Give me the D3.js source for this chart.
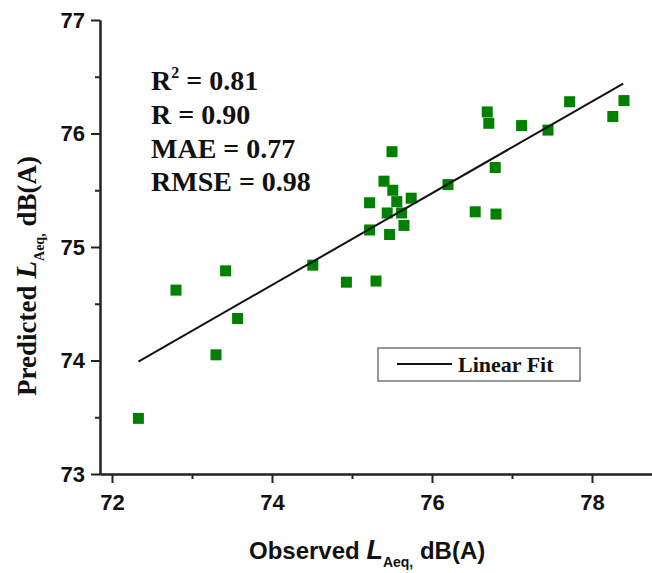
<!DOCTYPE html>
<html>
<head>
<meta charset="utf-8">
<script src="https://cdn.jsdelivr.net/npm/d3@7"></script>
<style>
  body { margin: 0; background: #fff; }
  svg { display: block; }
</style>
</head>
<body>
<svg id="chart"></svg>
<script>
// observed vs predicted LAeq
var observed  = [72.33, 72.80, 73.30, 73.42, 73.57, 74.51, 74.93, 75.30, 75.22, 75.22,
                 75.40, 75.50, 75.51, 75.56, 75.44, 75.62, 75.65, 75.47, 75.74, 76.20,
                 76.54, 76.80, 76.79, 76.69, 76.71, 77.12, 77.45, 77.72, 78.26, 78.40]
var predicted = [73.49, 74.62, 74.05, 74.79, 74.37, 74.84, 74.69, 74.70, 75.15, 75.39,
                 75.58, 75.84, 75.50, 75.40, 75.30, 75.30, 75.19, 75.11, 75.43, 75.55,
                 75.31, 75.29, 75.70, 76.19, 76.09, 76.07, 76.03, 76.28, 76.15, 76.29]

// linear fit end points
var fitX = [72.33, 78.39]
var fitY = [73.99, 76.44]

var xMajor = [72, 74, 76, 78]
var xMinor = [73, 75, 77]
var yMajor = [73, 74, 75, 76, 77]
var yMinor = [73.5, 74.5, 75.5, 76.5]

var stats = ["R = 0.90", "MAE = 0.77", "RMSE = 0.98"]

var dimensions = {
  width: 652,
  height: 573,
  margin: { top: 20, bottom: 99, right: 0, left: 100 }
}

var svg = d3.select("#chart")
  .attr("width", dimensions.width)
  .attr("height", dimensions.height)

var x = d3.scaleLinear()
  .domain([71.85, 78.75])
  .range([dimensions.margin.left, dimensions.width - dimensions.margin.right])

var y = d3.scaleLinear()
  .domain([73, 77])
  .range([dimensions.height - dimensions.margin.bottom, dimensions.margin.top])

var sans = "'Liberation Sans', Arial, sans-serif"
var serif = "'Liberation Serif', 'Times New Roman', serif"

// minor ticks
svg.append("g")
  .attr("transform", "translate(0," + y(73) + ")")
  .call(d3.axisBottom(x).tickValues(xMinor).tickSize(5).tickFormat("").tickSizeOuter(0))
svg.append("g")
  .attr("transform", "translate(" + x.range()[0] + ",0)")
  .call(d3.axisLeft(y).tickValues(yMinor).tickSize(5).tickFormat("").tickSizeOuter(0))

// major ticks
var xAxis = svg.append("g")
  .attr("transform", "translate(0," + y(73) + ")")
  .call(d3.axisBottom(x).tickValues(xMajor).tickSize(9).tickPadding(11).tickSizeOuter(0).tickFormat(d3.format("d")))
var yAxis = svg.append("g")
  .attr("transform", "translate(" + x.range()[0] + ",0)")
  .call(d3.axisLeft(y).tickValues(yMajor).tickSize(9).tickPadding(6).tickSizeOuter(0).tickFormat(d3.format("d")))

svg.selectAll(".domain").attr("stroke", "#222").attr("stroke-width", 2)
svg.selectAll(".tick line").attr("stroke", "#222").attr("stroke-width", 2)
svg.selectAll(".tick text")
  .style("font-family", sans)
  .style("font-weight", "bold")
  .style("font-size", "22px")
  .attr("fill", "#111")

// points
svg.append("g")
  .selectAll("rect")
  .data(observed)
  .enter()
  .append("rect")
    .attr("x", function(d) { return x(d) - 5.5 })
    .attr("y", function(d, i) { return y(predicted[i]) - 5.5 })
    .attr("width", 11)
    .attr("height", 11)
    .attr("fill", "#008000")

// fit line
svg.append("line")
  .attr("x1", x(fitX[0])).attr("y1", y(fitY[0]))
  .attr("x2", x(fitX[1])).attr("y2", y(fitY[1]))
  .attr("stroke", "#111")
  .attr("stroke-width", 2)

// stats text
var statText = svg.append("g")
  .style("font-family", serif)
  .style("font-weight", "bold")
  .style("font-size", "28px")
  .attr("fill", "#111")

var r2 = statText.append("text").attr("x", 151).attr("y", 90)
r2.append("tspan").text("R")
r2.append("tspan").text("2").style("font-size", "16px").attr("dy", -12)
r2.append("tspan").text(" = 0.81").attr("dy", 12)

statText.selectAll("text.s")
  .data(stats)
  .enter()
  .append("text")
    .attr("class", "s")
    .attr("x", 151)
    .attr("y", function(d, i) { return 124 + i * 33.5 })
    .text(function(d) { return d })

// legend
var legend = svg.append("g")
legend.append("rect")
  .attr("x", 378).attr("y", 348)
  .attr("width", 202).attr("height", 33)
  .attr("fill", "#fff")
  .attr("stroke", "#777")
  .attr("stroke-width", 1.5)
legend.append("line")
  .attr("x1", 397).attr("x2", 452)
  .attr("y1", 364).attr("y2", 364)
  .attr("stroke", "#111")
  .attr("stroke-width", 2)
legend.append("text")
  .attr("x", 458).attr("y", 372)
  .style("font-family", serif)
  .style("font-weight", "bold")
  .style("font-size", "22px")
  .attr("fill", "#111")
  .text("Linear Fit")

// x title
var xt = svg.append("text")
  .attr("x", 249).attr("y", 559)
  .style("font-family", sans)
  .style("font-weight", "bold")
  .style("font-size", "24px")
  .attr("fill", "#111")
xt.append("tspan").text("Observed ")
xt.append("tspan").text("L").style("font-style", "italic").style("font-size", "27px")
xt.append("tspan").text("Aeq,").style("font-size", "14px").attr("dy", 8)
xt.append("tspan").text(" dB(A)").attr("dy", -8)

// y title
var yt = svg.append("text")
  .attr("transform", "translate(36," + 276 + ") rotate(-90)")
  .attr("text-anchor", "middle")
  .style("font-family", serif)
  .style("font-weight", "bold")
  .style("font-size", "27px")
  .attr("fill", "#111")
yt.append("tspan").text("Predicted ")
yt.append("tspan").text("L").style("font-style", "italic").style("font-size", "29px")
yt.append("tspan").text("Aeq,").style("font-size", "14px").attr("dy", 8)
yt.append("tspan").text("  dB(A)").attr("dy", -8)
</script>
</body>
</html>
